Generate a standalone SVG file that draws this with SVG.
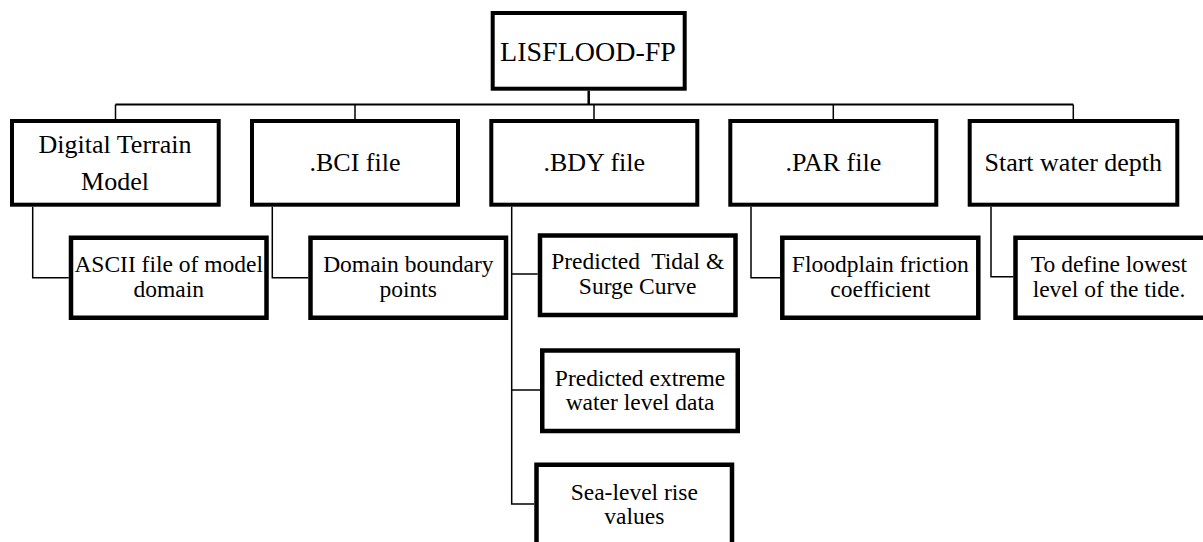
<svg xmlns="http://www.w3.org/2000/svg" width="1203" height="542" viewBox="0 0 1203 542">
<style>
.b1{fill:#fff;stroke:#000;stroke-width:4}
.b2{fill:#fff;stroke:#000;stroke-width:4.5}
.c{fill:none;stroke:#000;stroke-width:1.5}
text{fill:#000;text-anchor:middle;white-space:pre}
.t0{font-size:28px}
.t1{font-size:26px}
.t2{font-size:23.5px}
</style>
<rect width="1203" height="542" fill="#fff"/>
<g id="connectors">
<path d="M588.7 90.7V104.5" fill="none" stroke="#000" stroke-width="2.5"/>
<path d="M115.5 104.5H1073.3" fill="none" stroke="#000" stroke-width="2"/>
<path class="c" d="M115.5 104.5V119M355 104.5V119M594 104.5V119M833.3 104.5V119M1073.3 104.5V119"/>
<path class="c" d="M32.7 206.7V277.7H68.7"/>
<path class="c" d="M272.3 206.7V277.7H308.3"/>
<path class="c" d="M511.7 206.7V504H534.3M511.7 274H537.7M511.7 390H540"/>
<path class="c" d="M751 206.7V277.7H780"/>
<path class="c" d="M991 206.7V276.7H1013.3"/>
</g>
<g font-family="Liberation Serif, DejaVu Serif, serif">
<g id="lisflood">
<rect class="b1" x="492.7" y="13" width="192" height="75.7"/>
<text class="t0" x="588" y="60.7">LISFLOOD-FP</text>
</g>
<g id="dtm">
<rect class="b1" x="12" y="121" width="206.7" height="83.7"/>
<text class="t1" x="115" y="152.7">Digital Terrain</text>
<text class="t1" x="115" y="190">Model</text>
</g>
<g id="bci">
<rect class="b1" x="252" y="121" width="206" height="83.7"/>
<text class="t1" x="355" y="170.7">.BCI file</text>
</g>
<g id="bdy">
<rect class="b1" x="491.3" y="121" width="206" height="83.7"/>
<text class="t1" x="594.3" y="170.7">.BDY file</text>
</g>
<g id="par">
<rect class="b1" x="730.3" y="121" width="206" height="83.7"/>
<text class="t1" x="833.3" y="170.7">.PAR file</text>
</g>
<g id="start">
<rect class="b1" x="969.7" y="121" width="207.6" height="83.7"/>
<text class="t1" x="1073.3" y="170.7">Start water depth</text>
</g>
<g id="ascii">
<rect class="b2" x="71" y="237.75" width="195.5" height="80"/>
<text class="t2" x="168.7" y="272.3">ASCII file of model</text>
<text class="t2" x="168.7" y="297.3">domain</text>
</g>
<g id="domain">
<rect class="b2" x="310.5" y="237.75" width="195.5" height="80"/>
<text class="t2" x="408.3" y="272.3">Domain boundary</text>
<text class="t2" x="408.3" y="297.3">points</text>
</g>
<g id="tidal">
<rect class="b2" x="540" y="235.5" width="195.5" height="79.5"/>
<text class="t2" x="637.7" y="269">Predicted  Tidal &amp;</text>
<text class="t2" x="637.7" y="294">Surge Curve</text>
</g>
<g id="extreme">
<rect class="b2" x="542.25" y="350.5" width="195.5" height="80.5"/>
<text class="t2" x="640" y="386">Predicted extreme</text>
<text class="t2" x="640" y="410">water level data</text>
</g>
<g id="sealevel">
<rect class="b2" x="536.5" y="464.75" width="195.5" height="80"/>
<text class="t2" x="634.3" y="500">Sea-level rise</text>
<text class="t2" x="634.3" y="524">values</text>
</g>
<g id="floodplain">
<rect class="b2" x="782.3" y="237.75" width="196" height="80"/>
<text class="t2" x="880.3" y="272.3">Floodplain friction</text>
<text class="t2" x="880.3" y="296.7">coefficient</text>
</g>
<g id="define">
<rect class="b2" x="1015.5" y="237.75" width="195.5" height="80"/>
<text class="t2" x="1109" y="272.3">To define lowest</text>
<text class="t2" x="1109" y="297">level of the tide.</text>
</g>
</g>
</svg>
